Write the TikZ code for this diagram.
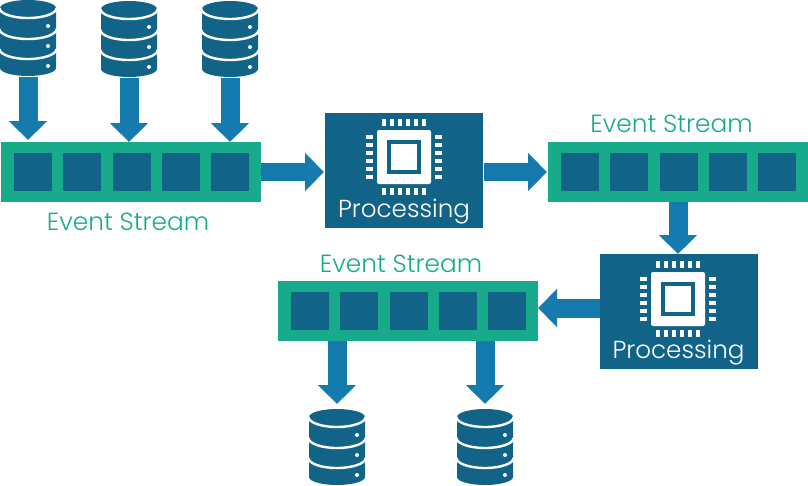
\documentclass[tikz,border=0pt]{standalone}
\usepackage{fontspec}
\setmainfont{Poppins Light}
\usetikzlibrary{arrows.meta}
\definecolor{navy}{HTML}{116488}
\definecolor{teal}{HTML}{17AB8C}
\definecolor{flowblue}{HTML}{157BAF}
\tikzset{
  x=1pt,y=-1pt,
  streambar/.style={fill=teal,minimum width=260pt,minimum height=60pt,inner sep=0pt,outer sep=0pt},
  slot/.style={fill=navy,minimum size=38pt,inner sep=0pt,outer sep=0pt},
  procbox/.style={fill=navy,minimum width=158pt,minimum height=115pt,inner sep=0pt,outer sep=0pt},
  dbbox/.style={minimum width=56pt,minimum height=76pt,inner sep=0pt,outer sep=0pt},
  flow/.style={draw=flowblue,line width=19pt,-{Triangle[width=37pt,length=19pt,fill=flowblue]}},
  streamlabel/.style={text=teal,font=\fontsize{24.8}{25}\selectfont,inner sep=0pt,anchor=base},
  proclabel/.style={text=white,font=\fontsize{24.6}{25}\selectfont,inner sep=0pt,anchor=base},
}
% database stack: three stacked discs with indicator dots
\newcommand{\dbicon}[3]{%
  \node[dbbox] (#1) at (#2,#3) {};
  \begin{scope}[shift={(#2,#3)}]
    \fill[navy] (-28,-30) arc[start angle=180,end angle=360,x radius=28,y radius=8]
      -- (28,30) arc[start angle=0,end angle=180,x radius=28,y radius=8] -- cycle;
    \foreach \yy in {-30,-9,11}
      \draw[white,line width=2.4pt] (-28.5,\yy) arc[start angle=180,end angle=0,x radius=28.5,y radius=10];
    \foreach \yy in {-12,8,28}
      \fill[white] (20,\yy) circle[radius=2];
  \end{scope}}
% microprocessor glyph
\newcommand{\chipicon}[2]{%
  \begin{scope}[shift={(#1,#2)}]
    \fill[white,rounded corners=2pt] (-27,-27) rectangle (27,27);
    \fill[navy] (-17,-17) rectangle (17,17);
    \fill[white] (-13,-13) rectangle (13,13);
    \foreach \k in {0,...,5} {
      \fill[white] (-22+8*\k,-38) rectangle +(4,7);
      \fill[white] (-22+8*\k,31) rectangle +(4,7);
      \fill[white] (-38,-22+8*\k) rectangle +(7,4);
      \fill[white] (31,-22+8*\k) rectangle +(7,4);
    }
  \end{scope}}
% bar with five slots
\newcommand{\streamicon}[3]{%
  \node[streambar] (#1) at (#2,#3) {};
  \foreach \dx [count=\n] in {-98,-49,1,50,99}
    \node[slot] (#1s\n) at (#2+\dx,#3) {};}
\begin{document}
\begin{tikzpicture}
\useasboundingbox (0,0) rectangle (808,485);
\dbicon{dba}{28}{38}
\dbicon{dbb}{129}{39}
\dbicon{dbc}{230}{39}
\dbicon{dbd}{337}{447}
\dbicon{dbe}{485}{447}
\streamicon{sa}{131}{172}
\streamicon{sb}{678}{172}
\streamicon{sc}{408}{311}
\node[procbox] (pa) at (404,170.5) {};
\node[procbox] (pb) at (678.5,311.5) {};
\chipicon{404}{157}
\chipicon{678}{299}
\node[proclabel] (pat) at (404,217) {Processing};
\node[proclabel] (pbt) at (678.5,358) {Processing};
\node[streamlabel] (la) at (128,230) {Event Stream};
\node[streamlabel] (lb) at (671.5,132) {Event Stream};
\node[streamlabel] (lc) at (401,272) {Event Stream};
% connectors
\draw[flow,shorten >=2pt] (dba.south) ++(0,1) -- (dba.south |- sa.north);
\draw[flow] (dbb.south) ++(0,1) -- (dbb.south |- sa.north);
\draw[flow] (dbc.south) ++(0,1) -- (dbc.south |- sa.north);
\draw[flow,line width=18pt,shorten >=1pt] (sa.east) -- (pa.west |- sa.east);
\draw[flow,line width=18pt,shorten >=1pt,shorten <=1pt] (pa.east |- sb.west) -- (sb.west);
\draw[flow] (sb.south) -- (sb.south |- pb.north);
\draw[flow] (pb.west |- 0,308) -- (sc.east |- 0,308);
\draw[flow] (dbd.north |- sc.south) -- ([yshift=5pt]dbd.north);
\draw[flow] (dbe.north |- sc.south) -- ([yshift=5pt]dbe.north);
\end{tikzpicture}
\end{document}
